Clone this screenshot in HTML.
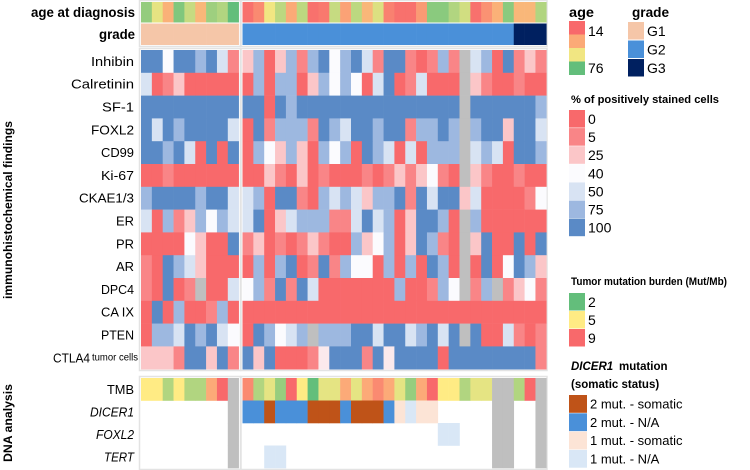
<!DOCTYPE html>
<html><head><meta charset="utf-8"><style>
html,body{margin:0;padding:0;background:#fff;}
svg{display:block;font-family:"Liberation Sans",sans-serif;}
</style></head><body>
<svg id="chart" width="750" height="470" viewBox="0 0 750 470" xmlns="http://www.w3.org/2000/svg"></svg>
<script>
// ===== data =====
const markers = ["Inhibin","Calretinin","SF-1","FOXL2","CD99","Ki-67","CKAE1/3","ER","PR","AR","DPC4","CA IX","PTEN","CTLA4"];
const ageValues = [66,50,32,70,56,34,64,60,76, 16,22,48,58,30,58,16,18,56,28,58,34,52,20,16,16,26,68,68,60,54,16,24,32,68,34,34,60];
const gradeValues = [1,1,1,1,1,1,1,1,1, 2,2,2,2,2,2,2,2,2,2,2,2,2,2,2,2,2,2,2,2,2,2,2,2,2,3,3,3];
const stainInhibin = [100,100,40,100,100,75,100,50,5, 25,75,0,25,75,5,75,100,40,75,100,50,5,100, 100,5,0,5,75,5,null,50,75,0,100,5,25,5];
const stainCalretinin = [50,0,5,25,0,0,0,0,0, 0,75,0,75,75,0,25,75,40,75,40,0,50,100, 0,5,50,0,0,0,null,25,5,0,0,5,0,0];
const stainSF1 = [100,100,100,100,100,100,100,100,100, 100,100,0,100,75,100,100,100,100,100,100,100,100,100, 100,100,100,100,100,100,null,100,100,100,100,100,100,75];
const stainFOXL2 = [100,50,100,75,100,100,100,100,50, 0,100,5,75,75,75,5,100,75,50,100,100,75,100, 100,5,75,75,100,75,null,75,100,100,25,100,100,50];
const stainCD99 = [100,100,75,100,50,0,100,0,100, 0,75,40,25,75,25,0,75,40,75,0,100,75,50, 0,50,0,75,75,75,null,50,75,50,0,100,100,75];
const stainKi67 = [0,0,5,0,0,0,0,0,0, 0,0,25,5,0,25,0,5,0,0,0,5,0,5, 25,5,25,40,5,0,null,25,5,0,0,5,0,0];
const stainCKAE = [75,100,100,100,100,75,100,100,50, 50,75,0,100,100,5,0,75,50,75,50,25,75,75, 100,5,100,50,100,100,25,50,0,0,0,0,5,40];
const stainER = [50,0,75,5,25,75,40,75,50, 50,100,0,25,50,75,75,75,5,5,50,100,50,75, 0,25,100,100,75,0,null,75,0,0,0,0,0,0];
const stainPR = [0,0,0,0,40,25,0,0,100, 5,25,0,5,0,5,25,5,0,0,75,25,40,75, 0,25,100,75,5,0,null,25,100,0,0,100,0,100];
const stainAR = [5,0,100,75,50,25,0,0,0, 0,75,0,75,100,0,5,100,5,75,40,40,0,75, 0,75,0,100,75,0,null,0,100,0,40,100,75,25];
const stainDPC4 = [5,0,100,0,5,null,0,0,50, 40,75,5,100,5,100,50,0,0,0,0,0,0,0, 75,0,0,5,75,40,null,5,75,null,5,25,40,5];
const stainCAIX = [0,100,0,75,0,0,5,75,0, 0,0,0,0,0,0,0,0,0,0,0,0,0,0, 0,0,0,0,0,0,0,0,0,0,0,0,0,0];
const stainPTEN = [0,75,75,50,100,75,100,50,40, 0,100,75,40,50,75,null,75,75,75,100,100,50,100, 100,50,75,100,50,100,null,100,0,0,50,5,0,5];
const stainCTLA4 = [25,25,25,5,100,100,25,100,5, 100,25,100,0,0,0,5,35,100,100,100,5,100,35, 100,100,100,100,0,100,100,100,100,100,100,100,100,5];
const tmbValues = [5,5,3.5,5,3.5,3.5,7,9,null, 8,3.5,4.5,3,9,5,2,4.5,4.5,7,4.5,7,8,7, 4.5,3,7,9,5,5,3.5,4.5,4.5,null,null,3.5,9,null];
// 0 none, 1 2mut-somatic, 2 2mut-N/A, 3 1mut-somatic, 4 1mut-N/A, -1 not available (gray)
const dicer1Status = [0,0,0,0,0,0,0,0,-1, 2,2,1,2,2,2,1,1,1,2,1,1,1,2, 3,4,3,3,0,0,0,0,0,-1,-1,0,0,-1];
const foxl2Status = [0,0,0,0,0,0,0,0,-1, 0,0,0,0,0,0,0,0,0,0,0,0,0,0, 0,0,0,0,4,4,0,0,0,-1,-1,0,0,-1];
const tertStatus = [0,0,0,0,0,0,0,0,-1, 0,0,4,4,0,0,0,0,0,0,0,0,0,0, 0,0,0,0,0,0,0,0,0,-1,-1,0,0,-1];
const stainTicks = [0,5,25,40,50,75,100];
const tmbTicks = [2,5,9];
const ageTicks = [14,76];
const gradeLabels = ["G1","G2","G3"];
const dicerLabels = ["2 mut. - somatic","2 mut. - N/A","1 mut. - somatic","1 mut. - N/A"];

const stainRows = [stainInhibin,stainCalretinin,stainSF1,stainFOXL2,stainCD99,stainKi67,stainCKAE,stainER,stainPR,stainAR,stainDPC4,stainCAIX,stainPTEN,stainCTLA4];

// ===== scales =====
const NS="http://www.w3.org/2000/svg";
const svg=document.getElementById('chart');
function hex(c){return [parseInt(c.slice(1,3),16),parseInt(c.slice(3,5),16),parseInt(c.slice(5,7),16)];}
function interp(stops,v){
  if(v<=stops[0][0]) return stops[0][1];
  for(let i=1;i<stops.length;i++){
    if(v<=stops[i][0]){
      const a=stops[i-1],b=stops[i],t=(v-a[0])/(b[0]-a[0]);
      const ca=hex(a[1]),cb=hex(b[1]);
      return 'rgb('+ca.map((x,k)=>Math.round(x+(cb[k]-x)*t)).join(',')+')';
    }
  }
  return stops[stops.length-1][1];
}
const stainStops=[[0,'#f8696b'],[5,'#f98587'],[25,'#fbc6c8'],[40,'#fbfbfe'],[50,'#d8e3f3'],[75,'#9db8e0'],[100,'#5a8ac6']];
const ageStops=[[14,'#f8696b'],[30,'#fbaa77'],[48,'#f1e682'],[60,'#b1d580'],[76,'#63be7b']];
const tmbStops=[[2,'#63be7b'],[5,'#ffeb84'],[9,'#f8696b']];
const gradeColors={1:'#f5c6a8',2:'#4a90d9',3:'#002060'};
const dicerColors={1:'#bf5318',2:'#4a90d9',3:'#fce4d6',4:'#d9e7f6'};
const GRAY='#bfbfbf';
const stainColor=v=>v===null?GRAY:interp(stainStops,v);
const ageColor=v=>interp(ageStops,v);
const tmbColor=v=>v===null?GRAY:interp(tmbStops,v);

const CW=10.85;
function xCol(i){return i<9?141+i*CW:242.5+(i-9)*CW;}
const heatTop=50, heatRowH=22.8, dnaTop=378, dnaRowH=22.5;
function yHeat(r){return heatTop+r*heatRowH;}
function yDna(r){return dnaTop+r*dnaRowH;}

function rect(x,y,w,h,fill,name,parent){
  const r=document.createElementNS(NS,'rect');
  r.setAttribute('x',x);r.setAttribute('y',y);r.setAttribute('width',w);r.setAttribute('height',h);
  r.setAttribute('fill',fill);
  
  
  (parent||svg).appendChild(r);return r;
}
function text(x,y,s,opts,name){
  const t=document.createElementNS(NS,'text');
  t.setAttribute('x',x);t.setAttribute('y',y);
  t.setAttribute('font-size',opts.size||13);
  if(opts.bold) t.setAttribute('font-weight','bold');
  if(opts.italic) t.setAttribute('font-style','italic');
  t.setAttribute('text-anchor',opts.anchor||'start');
  t.setAttribute('dominant-baseline','central');
  t.setAttribute('fill','#000');
  if(opts.rotate) t.setAttribute('transform','rotate(-90 '+x+' '+y+')');
  if(opts.len) {t.setAttribute('textLength',opts.len);t.setAttribute('lengthAdjust','spacingAndGlyphs');}
  t.textContent=s;
  
  
  svg.appendChild(t);return t;
}

// block outlines
[[139.5,0.5,101,46],[241,0.5,306,46],[139.5,48.5,101,322],[241,48.5,306,322],[139.5,376.5,101,93],[241,376.5,306,93]].forEach(b=>{
  const r=rect(b[0],b[1],b[2],b[3],'#fff','block-frame');
  r.setAttribute('stroke','#e3e3e3');r.setAttribute('stroke-width','1.5');
});

// age row
ageValues.forEach((v,i)=>{rect(xCol(i),2,CW+0.3,20.5,ageColor(v),'age-cell');});
// grade row
gradeValues.forEach((v,i)=>{rect(xCol(i),23.5,CW+0.3,21.5,gradeColors[v],'grade-cell');});
// heatmap
stainRows.forEach((row,r)=>{
  row.forEach((v,i)=>{rect(xCol(i),yHeat(r),CW+0.3,heatRowH+0.3,stainColor(v),'stain-cell');});
});
// DNA rows
tmbValues.forEach((v,i)=>{rect(xCol(i),yDna(0),CW+0.3,dnaRowH+0.3,tmbColor(v),'tmb-cell');});
[dicer1Status,foxl2Status,tertStatus].forEach((row,r)=>{
  row.forEach((v,i)=>{
    if(v===0) return;
    rect(xCol(i),yDna(r+1),CW+0.3,dnaRowH+0.3,v<0?GRAY:dicerColors[v],'mutation-cell');
  });
});

// labels
text(135,12,'age at diagnosis',{bold:true,anchor:'end',size:14,len:104},'age-row-label');
text(135,34,'grade',{bold:true,anchor:'end',size:14,len:36},'grade-row-label');
const labelLens=[43,63,32,43,33,33,55,18,18,18,33,33,33,0];
markers.forEach((m,r)=>{
  const y=yHeat(r)+heatRowH/2;
  if(m==='CTLA4'){
    text(92,y,'tumor cells',{anchor:'start',size:10,len:46},'ctla4-suffix-label');
    text(90,y,'CTLA4',{anchor:'end',size:13,len:37},'marker-label-ctla4');
  } else {
    text(134,y,m,{anchor:'end',size:13,len:labelLens[r]},'marker-label');
  }
});
text(134,yDna(0)+dnaRowH/2,'TMB',{anchor:'end',size:13,len:27},'tmb-row-label');
text(134,yDna(1)+dnaRowH/2,'DICER1',{anchor:'end',size:13,italic:true,len:44},'dicer1-row-label');
text(134,yDna(2)+dnaRowH/2,'FOXL2',{anchor:'end',size:13,italic:true,len:38},'foxl2-row-label');
text(134,yDna(3)+dnaRowH/2,'TERT',{anchor:'end',size:13,italic:true,len:30},'tert-row-label');
text(9,210,'immunohistochemical findings',{bold:true,anchor:'middle',size:11.5,rotate:true,len:178},'ihc-section-title');
text(9,423,'DNA analysis',{bold:true,anchor:'middle',size:11.5,rotate:true,len:78},'dna-section-title');

// legends
text(569,12,'age',{bold:true,size:14,len:25},'age-legend-title');
[14,30,48,76].forEach((v,k)=>{rect(569,21+k*13.5,16,13.5,ageColor(v),'age-legend-swatch');});
text(588,31,String(ageTicks[0]),{size:14},'age-legend-label');
text(588,68,String(ageTicks[1]),{size:14},'age-legend-label');

text(632,12,'grade',{bold:true,size:14,len:37},'grade-legend-title');
gradeLabels.forEach((g,k)=>{
  rect(628,22+k*18.5,16,17.5,gradeColors[k+1],'grade-legend-swatch');
  text(647,31+k*18.5,g,{size:14},'grade-legend-label');
});

text(571,100,'% of positively stained cells',{bold:true,size:11,len:148},'stain-legend-title');
stainTicks.forEach((v,k)=>{
  rect(569,110+k*18.1,16,17.6,stainColor(v),'stain-legend-swatch');
  text(588,119+k*18.1,String(v),{size:14},'stain-legend-label');
});

text(571,282,'Tumor mutation burden (Mut/Mb)',{bold:true,size:11,len:156},'tmb-legend-title');
tmbTicks.forEach((v,k)=>{
  rect(569,293+k*18,16,17.5,tmbColor(v),'tmb-legend-swatch');
  text(588,302+k*18,String(v),{size:14},'tmb-legend-label');
});

text(571,367,'DICER1',{bold:true,italic:true,size:11.5},'dicer-legend-title');
text(619,367,'mutation',{bold:true,size:11.5},'dicer-legend-title-rest');
text(571,385,'(somatic status)',{bold:true,size:11.5},'dicer-legend-subtitle');
dicerLabels.forEach((s,k)=>{
  rect(569,395+k*18.3,18,17.8,dicerColors[k+1],'dicer-legend-swatch');
  text(590,404+k*18.3,s,{size:13},'dicer-legend-label');
});
</script>
</body></html>
